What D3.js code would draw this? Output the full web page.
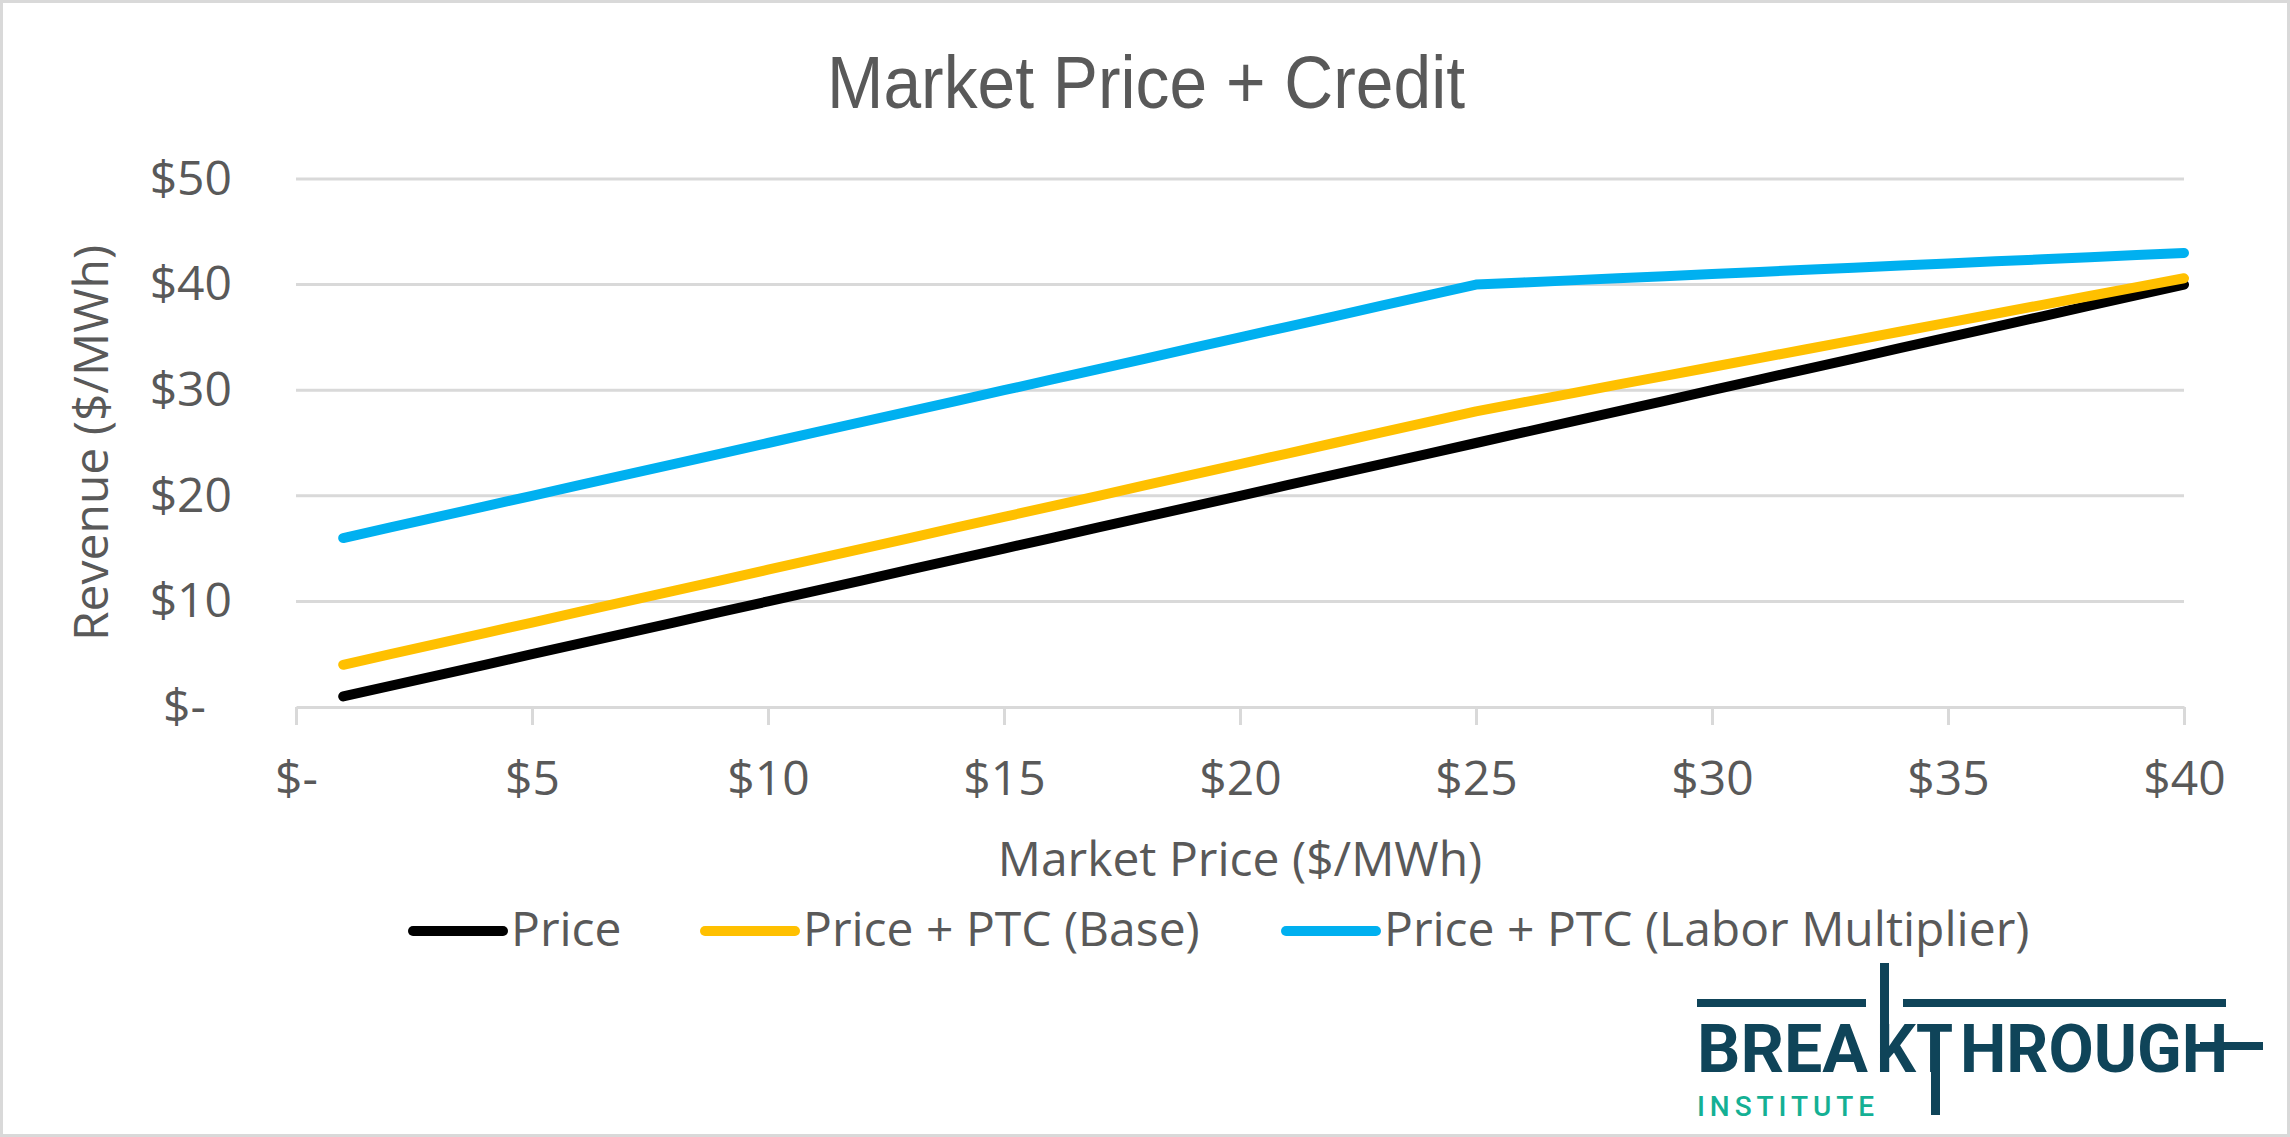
<!DOCTYPE html>
<html>
<head>
<meta charset="utf-8">
<script src="https://cdn.jsdelivr.net/npm/d3@7"></script>
<style>
  body { margin: 0; background: #fff; }
  text { fill: #595959; }
</style>
</head>
<body>
<div id="chart"></div>
<script>
// values ($/MWh)
var marketPrice = [1, 2, 3, 4, 5, 6, 7, 8, 9, 10, 11, 12, 13, 14, 15, 16, 17, 18, 19, 20,
  21, 22, 23, 24, 25, 26, 27, 28, 29, 30, 31, 32, 33, 34, 35, 36, 37, 38, 39, 40];
var price = [1, 2, 3, 4, 5, 6, 7, 8, 9, 10, 11, 12, 13, 14, 15, 16, 17, 18, 19, 20,
  21, 22, 23, 24, 25, 26, 27, 28, 29, 30, 31, 32, 33, 34, 35, 36, 37, 38, 39, 40];
var ptcBase = [4, 5, 6, 7, 8, 9, 10, 11, 12, 13, 14, 15, 16, 17, 18, 19, 20, 21, 22, 23,
  24, 25, 26, 27, 28, 28.84, 29.68, 30.52, 31.36, 32.2, 33.04, 33.88, 34.72, 35.56, 36.4,
  37.24, 38.08, 38.92, 39.76, 40.6];
var ptcLabor = [16, 17, 18, 19, 20, 21, 22, 23, 24, 25, 26, 27, 28, 29, 30, 31, 32, 33, 34, 35,
  36, 37, 38, 39, 40, 40.2, 40.4, 40.6, 40.8, 41, 41.2, 41.4, 41.6, 41.8, 42, 42.2, 42.4,
  42.6, 42.8, 43];

var seriesNames = ["Price", "Price + PTC (Base)", "Price + PTC (Labor Multiplier)"];
var seriesColors = ["#000000", "#FFC000", "#00B0F0"];
var xTicks = [0, 5, 10, 15, 20, 25, 30, 35, 40];
var yTicks = [0, 10, 20, 30, 40, 50];

var W = 2290, H = 1137;
var font = "'Open Sans', sans-serif";
var fmt = function (d) { return d === 0 ? "$-" : "$" + d; };

var svg = d3.select("#chart").append("svg")
    .attr("width", W).attr("height", H);

svg.append("rect")
    .attr("x", 1.5).attr("y", 1.5)
    .attr("width", W - 3).attr("height", H - 3)
    .style("fill", "#fff").style("stroke", "#d9d9d9").style("stroke-width", 3);

var x = d3.scaleLinear().domain([0, 40]).range([296, 2184]);
var y = d3.scaleLinear().domain([0, 50]).range([707, 179]);

// title
svg.append("text")
    .attr("x", 1146).attr("y", 108)
    .attr("text-anchor", "middle")
    .attr("textLength", 638).attr("lengthAdjust", "spacingAndGlyphs")
    .style("font-family", "'Liberation Sans', Arial, sans-serif")
    .style("font-size", "74px")
    .text("Market Price + Credit");

// gridlines
svg.append("g").selectAll("line")
    .data(yTicks.filter(function (d) { return d > 0; }))
    .join("line")
    .attr("x1", x(0)).attr("x2", x(40))
    .attr("y1", function (d) { return y(d); })
    .attr("y2", function (d) { return y(d); })
    .style("stroke", "#d9d9d9").style("stroke-width", 3);

// y axis (labels only)
var yAxis = svg.append("g")
    .attr("transform", "translate(" + x(0) + ",0)")
    .call(d3.axisLeft(y).tickValues(yTicks).tickFormat(fmt).tickSize(0).tickPadding(64));
yAxis.select(".domain").remove();
yAxis.selectAll("text")
    .style("font-family", font).style("font-size", "48px").style("fill", "#595959")
    .attr("dx", function (d) { return d === 0 ? -26 : 0; });

// x axis
var xAxis = svg.append("g")
    .attr("transform", "translate(0," + y(0) + ")")
    .call(d3.axisBottom(x).tickValues(xTicks).tickFormat(fmt)
      .tickSizeInner(18).tickSizeOuter(0).tickPadding(36));
xAxis.select(".domain").style("stroke", "#d9d9d9").style("stroke-width", 3);
xAxis.selectAll(".tick line").style("stroke", "#d9d9d9").style("stroke-width", 3);
xAxis.selectAll("text")
    .style("font-family", font).style("font-size", "48px").style("fill", "#595959");

// axis titles
svg.append("text")
    .attr("x", 1240).attr("y", 876)
    .attr("text-anchor", "middle")
    .style("font-family", font).style("font-size", "48px")
    .text("Market Price ($/MWh)");
svg.append("text")
    .attr("transform", "translate(108,443) rotate(-90)")
    .attr("text-anchor", "middle")
    .style("font-family", font).style("font-size", "48px")
    .text("Revenue ($/MWh)");

// lines
var series = [price, ptcBase, ptcLabor];
var line = d3.line()
    .x(function (d, i) { return x(marketPrice[i]); })
    .y(function (d) { return y(d); });
svg.append("g").selectAll("path")
    .data(series)
    .join("path")
    .attr("d", line)
    .style("fill", "none")
    .style("stroke", function (d, i) { return seriesColors[i]; })
    .style("stroke-width", 10)
    .style("stroke-linecap", "round")
    .style("stroke-linejoin", "round");

// legend
var legendX = [413, 705, 1286];
var leg = svg.append("g").selectAll("g")
    .data(seriesNames)
    .join("g")
    .attr("transform", function (d, i) { return "translate(" + legendX[i] + ",931)"; });
leg.append("line")
    .attr("x1", 0).attr("x2", 90)
    .style("stroke", function (d, i) { return seriesColors[i]; })
    .style("stroke-width", 10)
    .style("stroke-linecap", "round");
leg.append("text")
    .attr("x", 98).attr("y", 15)
    .style("font-family", font).style("font-size", "48px")
    .text(function (d) { return d; });

// logo
var dark = "#0f4459";
var logo = svg.append("g");
var bars = [
  [1697, 999, 169, 8], [1903, 999, 323, 8],
  [1880, 963, 9, 109], [1931, 1030, 9, 85], [2200, 1042, 63, 8]
];
logo.selectAll("rect").data(bars).join("rect")
    .attr("x", function (d) { return d[0]; })
    .attr("y", function (d) { return d[1]; })
    .attr("width", function (d) { return d[2]; })
    .attr("height", function (d) { return d[3]; })
    .style("fill", dark);
var logoParts = [["BREA", 1697, 171], ["K", 1876, 40], ["T", 1916, 37], ["HROUGH", 1960, 268]];
logo.selectAll("text.bt").data(logoParts).join("text")
    .attr("class", "bt")
    .attr("x", function (d) { return d[1]; })
    .attr("y", 1072)
    .attr("textLength", function (d) { return d[2]; })
    .attr("lengthAdjust", "spacingAndGlyphs")
    .style("font-family", "Roboto, sans-serif").style("font-weight", 700)
    .style("font-size", "67px").style("fill", dark)
    .text(function (d) { return d[0]; });
logo.append("text")
    .attr("x", 1697).attr("y", 1116)
    .attr("textLength", 177).attr("lengthAdjust", "spacing")
    .style("font-family", "Roboto, sans-serif").style("font-weight", 500)
    .style("font-size", "28px").style("fill", "#14b094")
    .text("INSTITUTE");
</script>
</body>
</html>
